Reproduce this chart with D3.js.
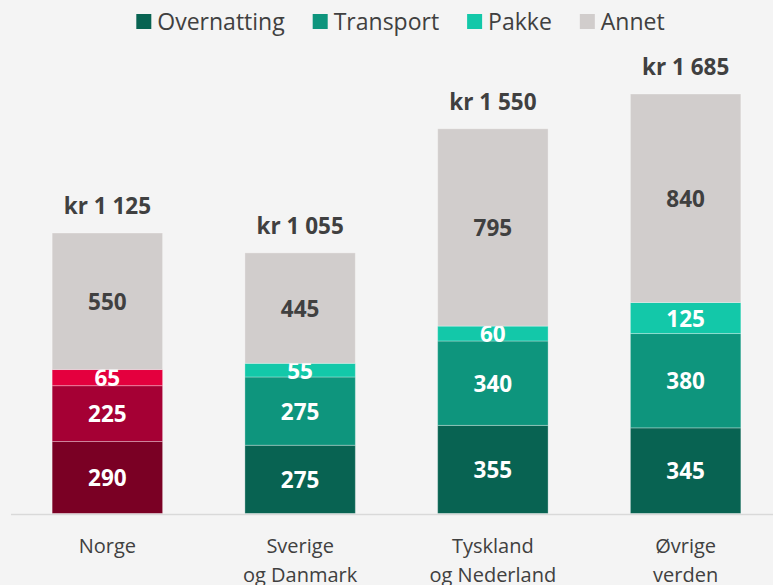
<!DOCTYPE html>
<html lang="no">
<head>
<meta charset="UTF-8">
<title>Forbruk per reise</title>
<script src="https://d3js.org/d3.v7.min.js"></script>
<style>
    html, body { margin: 0; padding: 0; background: #f4f4f4; }
    svg { display: block; font-family: "Open Sans", sans-serif; }
</style>
</head>
<body>
<svg id="chart" width="773" height="585"></svg>
<script>
// data
const categories = ["Norge", "Sverige og Danmark", "Tyskland og Nederland", "Øvrige verden"];
const categoryLines = [["Norge"], ["Sverige", "og Danmark"], ["Tyskland", "og Nederland"], ["Øvrige", "verden"]];
const seriesNames = ["Overnatting", "Transport", "Pakke", "Annet"];
const overnatting = [290, 275, 355, 345];
const transport = [225, 275, 340, 380];
const pakke = [65, 55, 60, 125];
const annet = [550, 445, 795, 840];
const totals = [1125, 1055, 1550, 1685];
const totalLabels = ["kr 1 125", "kr 1 055", "kr 1 550", "kr 1 685"];

const greens = ["#086352", "#0e957d", "#13c8a9", "#d1cdcc"];
const reds = ["#7a0024", "#a50034", "#e4003e", "#d1cdcc"];

const W = 773, H = 585;
const svg = d3.select("#chart");

const rows = categories.map((c, i) => ({
    cat: c,
    Overnatting: overnatting[i],
    Transport: transport[i],
    Pakke: pakke[i],
    Annet: annet[i]
}));

const stack = d3.stack().keys(seriesNames)(rows);

const x = d3.scaleBand()
    .domain(categories)
    .range([11, 782])
    .paddingInner(0.427)
    .paddingOuter(0.2135);

const y = d3.scaleLinear()
    .domain([0, 1690])
    .range([513.5, 94]);

// bars
const layers = svg.append("g").selectAll("g")
    .data(stack)
    .join("g");

layers.selectAll("rect")
    .data((d, si) => d.map((v, i) => ({ v: v, si: si, i: i })))
    .join("rect")
    .attr("x", d => x(categories[d.i]))
    .attr("width", x.bandwidth())
    .attr("y", d => y(d.v[1]))
    .attr("height", d => y(d.v[0]) - y(d.v[1]))
    .attr("fill", d => (d.i === 0 ? reds : greens)[d.si])
    .attr("stroke", "rgba(255,255,255,0.3)")
    .attr("stroke-width", 1);

// segment labels
layers.selectAll("text")
    .data((d, si) => d.map((v, i) => ({ v: v, si: si, i: i })))
    .join("text")
    .attr("x", d => x(categories[d.i]) + x.bandwidth() / 2)
    .attr("y", d => (y(d.v[0]) + y(d.v[1])) / 2 + 8.5)
    .attr("text-anchor", "middle")
    .attr("font-size", "22.5px")
    .attr("font-weight", "bold")
    .attr("fill", d => d.si === 3 ? "#404040" : "#ffffff")
    .text(d => d.v[1] - d.v[0]);

// totals
svg.append("g").selectAll("text")
    .data(totals)
    .join("text")
    .attr("x", (d, i) => x(categories[i]) + x.bandwidth() / 2)
    .attr("y", (d, i) => y(stack[3][i][1]) - 19)
    .attr("text-anchor", "middle")
    .attr("font-size", "22.5px")
    .attr("font-weight", "bold")
    .attr("fill", "#404040")
    .text((d, i) => totalLabels[i]);

// axis line
svg.append("line")
    .attr("x1", 11).attr("x2", W)
    .attr("y1", y(0) + 1).attr("y2", y(0) + 1)
    .attr("stroke", "#d9d9d9")
    .attr("stroke-width", 1.5);

// category labels
const catG = svg.append("g").selectAll("text")
    .data(categoryLines)
    .join("text")
    .attr("text-anchor", "middle")
    .attr("font-size", "20px")
    .attr("fill", "#404040")
    .attr("transform", (d, i) => `translate(${x(categories[i]) + x.bandwidth() / 2},553)`);

catG.selectAll("tspan")
    .data(d => d)
    .join("tspan")
    .attr("x", 0)
    .attr("y", (d, j) => j * 28.5)
    .text(d => d);

// legend
const legend = svg.append("g");
const items = legend.selectAll("g")
    .data(seriesNames)
    .join("g");

items.append("rect")
    .attr("width", 15).attr("height", 15)
    .attr("y", 14)
    .attr("fill", (d, i) => greens[i]);

items.append("text")
    .attr("x", 21)
    .attr("y", 29.5)
    .attr("font-size", "23px")
    .attr("fill", "#404040")
    .text(d => d);

let offset = 0;
const pos = [];
items.each(function () {
    pos.push(offset);
    offset += 21 + this.querySelector("text").getComputedTextLength() + 28;
});
offset -= 28;
const startX = 400.5 - offset / 2;
items.attr("transform", (d, i) => `translate(${startX + pos[i]},0)`);
</script>
</body>
</html>
